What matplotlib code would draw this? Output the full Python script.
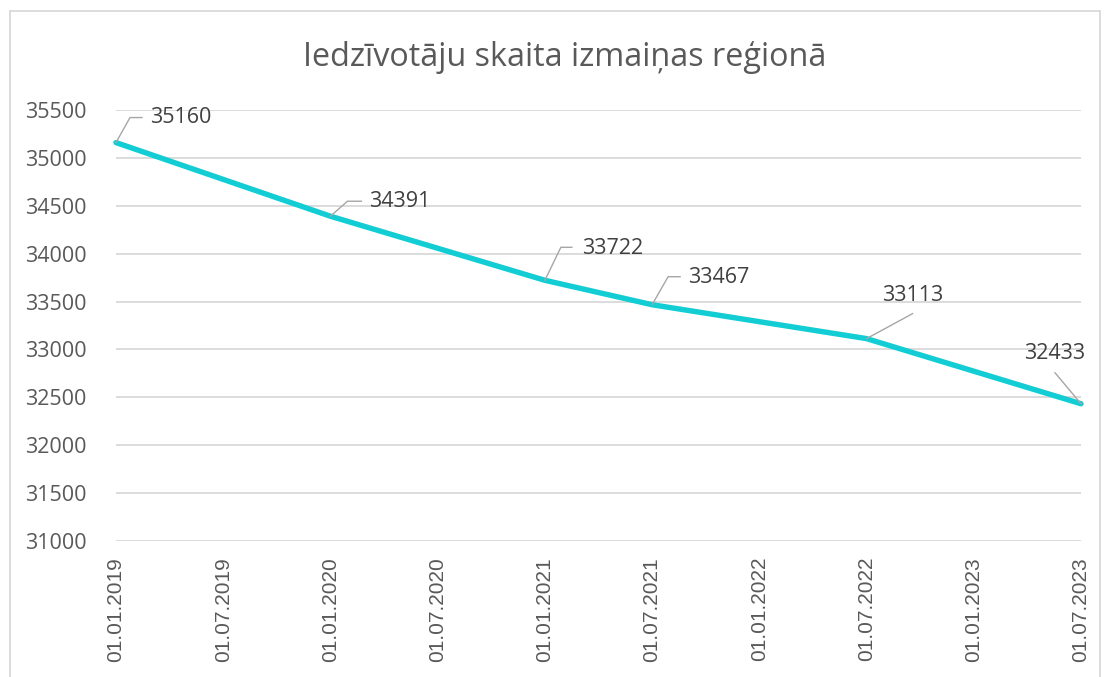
import matplotlib
matplotlib.use("Agg")
import matplotlib.pyplot as plt
from matplotlib.lines import Line2D
from matplotlib.patches import Rectangle
from matplotlib.transforms import IdentityTransform

# ---- data ----
title = "Iedzīvotāju skaita izmaiņas reģionā"
dates = ["01.01.2019", "01.01.2020", "01.01.2021", "01.07.2021", "01.07.2022", "01.07.2023"]
values = [35160, 34391, 33722, 33467, 33113, 32433]
tick_labels = ["01.01.2019", "01.07.2019", "01.01.2020", "01.07.2020", "01.01.2021",
               "01.07.2021", "01.01.2022", "01.07.2022", "01.01.2023", "01.07.2023"]
y_ticks = [31000, 31500, 32000, 32500, 33000, 33500, 34000, 34500, 35000, 35500]

# label leader geometry (pixel offsets): elbow, end, text position, alignment
label_style = [
    ((14, 25), (26, 25), (34, 25), "left"),
    ((17, 15), (31, 15), (39, 15), "left"),
    ((16, 33), (27, 33), (37, 32), "left"),
    ((16, 28), (28, 28), (36, 27), "left"),
    ((46, 25), (46, 25), (46, 43), "center"),
    ((-26, 31), (-26, 31), (-26, 50), "center"),
]


def month_index(s):
    d, m, y = (int(p) for p in s.split("."))
    return (y - 2019) * 12 + (m - 1)


xs = [month_index(d) for d in dates]
tick_pos = [month_index(t) for t in tick_labels]

W, H = 1107, 677
fig = plt.figure(figsize=(W / 100, H / 100), dpi=100)
ax = fig.add_axes([116 / W, 1 - 541 / H, (1081 - 116) / W, (541 - 110) / H])

ax.plot(xs, values, color="#12CDD4", linewidth=3.9, solid_capstyle="round",
        solid_joinstyle="round", clip_on=False, zorder=3)

ax.set_xlim(tick_pos[0], tick_pos[-1])
ax.set_ylim(31000, 35500)
ax.set_yticks(y_ticks)
ax.set_yticklabels([str(v) for v in y_ticks], fontfamily="Open Sans", fontsize=15.5,
                   color="#595959")
ax.set_xticks(tick_pos)
ax.set_xticklabels(tick_labels, rotation=90, fontfamily="Liberation Sans", fontsize=15,
                   color="#595959", va="top", ha="center")
ax.tick_params(axis="y", length=0, pad=21)
ax.tick_params(axis="x", length=0, pad=11.5)
ax.grid(axis="y", color="#D9D9D9", linewidth=1.3)
ax.set_axisbelow(True)
for s in ax.spines.values():
    s.set_visible(False)

fig.text(565 / W, 1 - 57 / H, title, ha="center", va="center",
         fontfamily="Open Sans", fontsize=23.3, color="#595959")

# outer chart border
fig.add_artist(Rectangle((9.5 / W, -0.05), (1099.5 - 9.5) / W, 1.05 - 10.5 / H,
                         transform=fig.transFigure, fill=False,
                         edgecolor="#D9D9D9", linewidth=1.3))

# data labels with leader lines
for x, v, (elb, end, txt, ha) in zip(xs, values, label_style):
    px, py = ax.transData.transform((x, v))
    lx = [px, px + elb[0], px + end[0]]
    ly = [py, py + elb[1], py + end[1]]
    fig.add_artist(Line2D(lx, ly, transform=IdentityTransform(), color="#A6A6A6",
                          linewidth=1.0, zorder=4))
    ax.annotate(str(v), (x, v), xytext=txt, textcoords="offset pixels",
                ha=ha, va="center", fontfamily="Open Sans", fontsize=15.5,
                color="#404040", annotation_clip=False)

fig.savefig("out.png", dpi=100, facecolor="white")
